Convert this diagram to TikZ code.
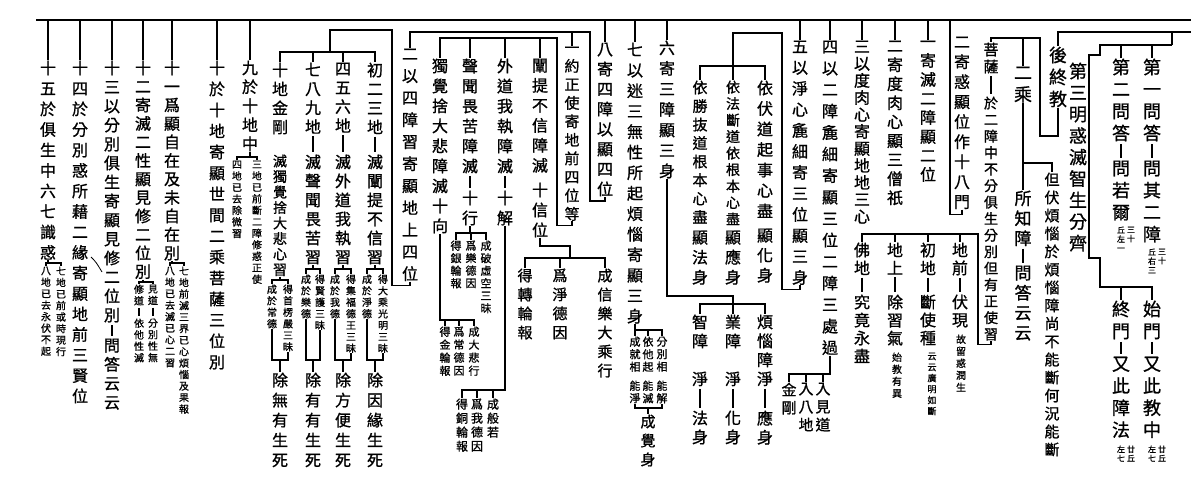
\documentclass[tikz,border=0pt]{standalone}
\usepackage{fontspec}
\setmainfont{Noto Sans CJK TC}[FakeBold=1]
\makeatletter
% one character per line
\def\vt#1{\vt@a#1\vt@end}
\def\vt@a#1{#1\vt@b}
\def\vt@b#1{\ifx\vt@end#1\expandafter\@gobble\else\expandafter\@firstofone\fi{\\#1\vt@b}}
\def\vt@end{VTEND}
\makeatother
\tikzset{
  vcol/.style 2 args={inner sep=0pt, anchor=north, align=center, font=\fontsize{#1}{#2}\selectfont},
}
\begin{document}
\begin{tikzpicture}[x=1pt, y=-1pt, line width=1.3pt]
    \path[use as bounding box, fill=white] (0,0) rectangle (1191,496);

    % top lines
    \coordinate (l1w) at (36,20);
    \coordinate (l1e) at (1191,20);
    \coordinate (lb) at (1191,32);
    \coordinate (lbr) at (1172,32);
    \coordinate (la) at (1172,45);
    \draw[line width=2.2pt] (l1w) -- (l1e);

    % three questions
    \node[vcol={18}{22}] (q1) at (1152,58) {\vt{第一問答}};
    \node[vcol={18}{22}] (q1b) at (1152,160) {\vt{問其二障}};
    \node[vcol={8}{9}] (q1r) at (1162,248) {\vt{三十}};
    \node[vcol={8}{9}] (q1l) at (1152,248) {\vt{丘右三}};
    \node[vcol={18}{22}] (q2) at (1121,58) {\vt{第二問答}};
    \node[vcol={18}{22}] (q2b) at (1121,160) {\vt{問若爾}};
    \node[vcol={8}{9}] (q2r) at (1131,226) {\vt{三十}};
    \node[vcol={8}{9}] (q2l) at (1121,226) {\vt{丘左一}};
    \node[vcol={18}{21.5}] (q3) at (1078,62) {\vt{第三明惑滅智生分齊}};
    \node[vcol={18}{22}] (m1) at (1152,300) {\vt{始門}};
    \node[vcol={18}{22}] (m1b) at (1152,356) {\vt{又此教中}};
    \node[vcol={8}{9}] (m1r) at (1162,445) {\vt{廿丘}};
    \node[vcol={8}{9}] (m1l) at (1152,445) {\vt{左七}};
    \node[vcol={18}{22}] (m2) at (1121,300) {\vt{終門}};
    \node[vcol={18}{22}] (m2b) at (1121,356) {\vt{又此障法}};
    \node[vcol={8}{9}] (m2r) at (1131,445) {\vt{廿丘}};
    \node[vcol={8}{9}] (m2l) at (1121,445) {\vt{左七}};

    % later final teaching
    \node[vcol={18}{22}] (hz) at (1058,46) {\vt{後終教}};
    \node[vcol={18}{22}] (er) at (1023,66) {\vt{二乘}};
    \node[vcol={15}{18}] (fn) at (1052,172) {\vt{但伏煩惱於煩惱障尚不能斷何況能斷}};
    \node[vcol={17}{20}] (sz) at (1023,190) {\vt{所知障}};
    \node[vcol={17}{20}] (szb) at (1023,265) {\vt{問答云云}};
    \node[vcol={15}{17}] (ps) at (991,42) {\vt{菩薩}};
    \node[vcol={14}{16.5}] (psb) at (991,96) {\vt{於二障中不分俱生分別但有正使習}};
    \node[vcol={16}{18}] (d1) at (960,242) {\vt{地前}};
    \node[vcol={16}{18}] (d1b) at (960,294) {\vt{伏現}};
    \node[vcol={10}{12}] (d1n) at (961,334) {\vt{故留惑潤生}};
    \node[vcol={16}{18}] (d2) at (928,242) {\vt{初地}};
    \node[vcol={16}{18}] (d2b) at (928,294) {\vt{斷使種}};
    \node[vcol={9}{11}] (d2n) at (932,352) {\vt{云云廣明如斷}};
    \node[vcol={16}{18}] (d3) at (895,242) {\vt{地上}};
    \node[vcol={16}{18}] (d3b) at (895,294) {\vt{除習氣}};
    \node[vcol={10}{12}] (d3n) at (897,352) {\vt{始教有異}};
    \node[vcol={16}{18}] (d4) at (862,242) {\vt{佛地}};
    \node[vcol={16}{18}] (d4b) at (862,294) {\vt{究竟永盡}};

    % eighteen gates
    \node[vcol={16}{20}] (sb) at (962,36) {\vt{二寄惑顯位作十八門}};
    \node[vcol={16}{19}] (i1) at (928,40) {\vt{一寄滅二障顯二位}};
    \node[vcol={16}{19}] (i2) at (895,40) {\vt{二寄度肉心顯三僧祇}};
    \node[vcol={16}{17}] (i3) at (862,40) {\vt{三以度肉心寄顯地地三心}};
    \node[vcol={16}{21.5}] (i4) at (830,40) {\vt{四以二障麁細寄顯三位二障三處過}};
    \node[vcol={16}{21}] (i5) at (800,40) {\vt{五以淨心麁細寄三位顯三身}};
    \node[vcol={16}{20.5}] (i6) at (667,40) {\vt{六寄三障顯三身}};
    \node[vcol={16}{20.5}] (i7) at (635,42) {\vt{七以迷三無性所起煩惱寄顯三身}};
    \node[vcol={16}{20}] (i8) at (605,42) {\vt{八寄四障以顯四位}};
    \node[vcol={16}{19}] (i9) at (250,60) {\vt{九於十地中}};
    \node[vcol={16}{21}] (i10) at (217,60) {\vt{十於十地寄顯世間二乘菩薩三位別}};
    \node[vcol={16}{18.5}] (i11) at (172,60) {\vt{十一爲顯自在及未自在別}};
    \node[vcol={16}{18.5}] (i12) at (143,60) {\vt{十二寄滅二性顯見修二位別}};
    \node[vcol={16}{19}] (i13) at (112,60) {\vt{十三以分別俱生寄顯見修二位別}};
    \node[vcol={16}{19}] (i13b) at (112,338) {\vt{問答云云}};
    \node[vcol={16}{20.5}] (i14) at (80,60) {\vt{十四於分別惑所藉二緣寄顯地前三賢位}};
    \node[vcol={16}{20.5}] (i15) at (48,60) {\vt{十五於俱生中六七識惑}};

    % under four and five
    \node[vcol={15}{18}] (r1) at (823,382) {\vt{入見道}};
    \node[vcol={15}{18}] (r2) at (806,382) {\vt{入八地}};
    \node[vcol={15}{18}] (r3) at (789,382) {\vt{金剛}};
    \node[vcol={16}{20.5}] (y1) at (765,80) {\vt{依伏道起事心盡}};
    \node[vcol={16}{20}] (y1b) at (765,228) {\vt{顯化身}};
    \node[vcol={14}{16.5}] (y2) at (733,80) {\vt{依法斷道依根本心盡}};
    \node[vcol={16}{20}] (y2b) at (733,230) {\vt{顯應身}};
    \node[vcol={15}{18.5}] (y3) at (700,80) {\vt{依勝抜道根本心盡}};
    \node[vcol={16}{20}] (y3b) at (700,230) {\vt{顯法身}};

    % under six and seven
    \node[vcol={16}{19}] (z1) at (765,314) {\vt{煩惱障淨}};
    \node[vcol={16}{19}] (z1b) at (765,410) {\vt{應身}};
    \node[vcol={16}{19}] (z2) at (733,314) {\vt{業障}};
    \node[vcol={16}{19}] (z2b) at (733,371) {\vt{淨}};
    \node[vcol={16}{19}] (z2c) at (733,410) {\vt{化身}};
    \node[vcol={16}{19}] (z3) at (700,314) {\vt{智障}};
    \node[vcol={16}{19}] (z3b) at (700,371) {\vt{淨}};
    \node[vcol={16}{19}] (z3c) at (700,410) {\vt{法身}};
    \node[vcol={11}{12.5}] (s1) at (662,336) {\vt{分別相}};
    \node[vcol={11}{12.5}] (s1b) at (662,380) {\vt{能解}};
    \node[vcol={11}{12.5}] (s2) at (648,336) {\vt{依他起}};
    \node[vcol={11}{12.5}] (s2b) at (648,380) {\vt{能滅}};
    \node[vcol={11}{12.5}] (s3) at (635,336) {\vt{成就相}};
    \node[vcol={11}{12.5}] (s3b) at (635,380) {\vt{能淨}};
    \node[vcol={15}{19}] (s4) at (648,414) {\vt{成覺身}};

    % under eight
    \node[vcol={15}{18.5}] (j1) at (572,46) {\vt{一約正使寄地前四位等}};
    \node[vcol={16}{22}] (j2) at (410,48) {\vt{二以四障習寄顯地上四位}};
    \node[vcol={16}{20}] (c1) at (540,58) {\vt{闡提不信障滅}};
    \node[vcol={16}{20}] (c1b) at (540,182) {\vt{十信位}};
    \node[vcol={15}{19}] (c1x) at (605,268) {\vt{成信樂大乘行}};
    \node[vcol={15}{19}] (c1y) at (560,268) {\vt{爲淨德因}};
    \node[vcol={15}{19}] (c1z) at (525,268) {\vt{得轉輪報}};
    \node[vcol={16}{20}] (c2) at (505,58) {\vt{外道我執障滅}};
    \node[vcol={16}{20}] (c2b) at (505,190) {\vt{十解}};
    \node[vcol={12}{14}] (c2x) at (493,398) {\vt{成般若}};
    \node[vcol={12}{14}] (c2y) at (477,398) {\vt{爲我德因}};
    \node[vcol={12}{14}] (c2z) at (462,398) {\vt{得銅輪報}};
    \node[vcol={16}{20}] (c3) at (470,58) {\vt{聲聞畏苦障滅}};
    \node[vcol={16}{20}] (c3b) at (470,190) {\vt{十行}};
    \node[vcol={11}{12.5}] (c3x) at (486,240) {\vt{成破虛空三昧}};
    \node[vcol={11}{12.5}] (c3y) at (471,240) {\vt{爲樂德因}};
    \node[vcol={11}{12.5}] (c3z) at (456,240) {\vt{得銀輪報}};
    \node[vcol={16}{20}] (c4) at (440,58) {\vt{獨覺捨大悲障滅十向}};
    \node[vcol={11}{13}] (c4x) at (474,326) {\vt{成大悲行}};
    \node[vcol={11}{13}] (c4y) at (459,326) {\vt{爲常德因}};
    \node[vcol={11}{13}] (c4z) at (445,326) {\vt{得金輪報}};

    % four grounds
    \node[vcol={16}{19}] (g1) at (375,62) {\vt{初二三地}};
    \node[vcol={16}{19}] (g1b) at (375,154) {\vt{滅闡提不信習}};
    \node[vcol={10}{11.5}] (g1x) at (383,274) {\vt{得大乘光明三昧}};
    \node[vcol={10}{11.5}] (g1y) at (367,274) {\vt{成於淨德}};
    \node[vcol={16}{20}] (g1z) at (375,372) {\vt{除因緣生死}};
    \node[vcol={16}{19}] (g2) at (343,62) {\vt{四五六地}};
    \node[vcol={16}{19}] (g2b) at (343,154) {\vt{滅外道我執習}};
    \node[vcol={10}{11.5}] (g2x) at (351,274) {\vt{得集福德王三昧}};
    \node[vcol={10}{11.5}] (g2y) at (335,274) {\vt{成於我德}};
    \node[vcol={16}{20}] (g2z) at (343,372) {\vt{除方便生死}};
    \node[vcol={16}{19}] (g3) at (313,62) {\vt{七八九地}};
    \node[vcol={16}{19}] (g3b) at (313,154) {\vt{滅聲聞畏苦習}};
    \node[vcol={10}{11.5}] (g3x) at (320,274) {\vt{得賢護三昧}};
    \node[vcol={10}{11.5}] (g3y) at (306,274) {\vt{成於樂德}};
    \node[vcol={16}{20}] (g3z) at (313,372) {\vt{除有有生死}};
    \node[vcol={16}{19}] (g4) at (280,62) {\vt{十地金剛}};
    \node[vcol={14}{15.5}] (g4b) at (280,154) {\vt{滅獨覺捨大悲心習}};
    \node[vcol={10}{11.5}] (g4x) at (288,284) {\vt{得首楞嚴三昧}};
    \node[vcol={10}{11.5}] (g4y) at (272,284) {\vt{成於常德}};
    \node[vcol={16}{20}] (g4z) at (280,372) {\vt{除無有生死}};

    % small notes on the left
    \node[vcol={10}{11.5}] (k9a) at (257,160) {\vt{三地已前斷二障修惑正使}};
    \node[vcol={10}{11.5}] (k9b) at (237,160) {\vt{四地已去除微習}};
    \node[vcol={10}{11.5}] (k11a) at (184,266) {\vt{七地前滅三界已心煩惱及果報}};
    \node[vcol={10}{11.5}] (k11b) at (170,266) {\vt{八地已去滅已心二習}};
    \node[vcol={10}{11.5}] (k12a) at (153,284) {\vt{見道}};
    \node[vcol={10}{11.5}] (k12ab) at (153,318) {\vt{分別性無}};
    \node[vcol={10}{11.5}] (k12b) at (139,284) {\vt{修道}};
    \node[vcol={10}{11.5}] (k12bb) at (139,318) {\vt{依他性滅}};
    \node[vcol={10}{11.5}] (k15a) at (61,266) {\vt{七地已前或時現行}};
    \node[vcol={10}{11.5}] (k15b) at (46,266) {\vt{八地已去永伏不起}};

    % ticks from the top line
    \foreach \n in {i1,i2,i3,i4,i5,i6,i7,i8,i9,i10,i11,i12,i13,i14,i15}
      \draw (\n.north) -- (\n.north |- l1w);

    % dashes inside columns
    \foreach \a/\b in {q1/q1b,q2/q2b,m1/m1b,m2/m2b,sz/szb,ps/psb,d1/d1b,d2/d2b,d3/d3b,d4/d4b,
        z1/z1b,z2b/z2c,z3b/z3c,c2/c2b,c3/c3b,g1/g1b,g2/g2b,g3/g3b,k12a/k12ab,k12b/k12bb,i13/i13b}
      \draw[shorten <=2pt, shorten >=2pt] (\a.south) -- (\b.north);

    % right block
    \coordinate (k3a) at (1100,55);
    \coordinate (k3b) at (1089,258);
    \coordinate (k3c) at (1100,287);
    \draw (hz.north) -- (hz.north |- lb) -- (lb);
    \draw (lbr) -- (la);
    \draw (q1.north) -- (q1.north |- la) -- (la);
    \draw (q2.north) -- (q2.north |- la);
    \draw (la) -| (k3a) -| (k3b) -| (k3c) -| (m1.north);
    \draw (m2.north) -- (m2.north |- k3c);
    \coordinate (kh) at (1040,38);
    \draw (hz.south) -- ++(0,28) -| (kh) -| (ps.north);
    \draw (er.north) -- (er.north |- kh);
    \coordinate (ke) at (1023,163);
    \draw (er.south) -- (ke) -| (fn.north);
    \draw (ke) -- (sz.north);
    \coordinate (kp) at (978,234);
    \draw (psb.south) -- ++(0,3) -| (kp) -| (d4.north);
    \foreach \n in {d1,d2,d3} \draw (\n.north) -- (\n.north |- kp);
    \coordinate (ks) at (950,20);
    \draw (sb.south) -- ++(0,5) -| (ks);

    % four, five, six, seven
    \coordinate (k4) at (830,374);
    \draw (i4.south) -- (k4) -| (r3.north);
    \foreach \n in {r1,r2} \draw (\n.north) -- (\n.north |- k4);
    \coordinate (k5a) at (782,33);
    \coordinate (k5b) at (733,66);
    \draw (i5.south) -- ++(0,4) -| (k5a) -| (k5b);
    \draw (y3.north) |- (k5b) -| (y1.north);
    \draw (y2.north) -- (k5b);
    \coordinate (k6a) at (667,296);
    \coordinate (k6b) at (733,304);
    \draw (i6.south) -- (k6a) -| (k6b);
    \draw (z3.north) |- (k6b) -| (z1.north);
    \draw (z2.north) -- (k6b);
    \coordinate (k7) at (635,330);
    \coordinate (k7b) at (648,408);
    \draw (i7.south) -- (s3.north);
    \draw (k7) -| (s1.north);
    \draw (s2.north) -- (s2.north |- k7);
    \draw (s3b.south) |- (k7b) -| (s1b.south);
    \draw (k7b) -- (s4.north);

    % eight
    \coordinate (k8) at (590,32);
    \draw (i8.south) -- ++(0,4) -| (k8) -| (j2.north);
    \draw (j1.north) -- (j1.north |- k8);
    \coordinate (kj) at (557,38);
    \draw (j1.south) -- ++(0,4) -| (kj) -| (c4.north);
    \foreach \n in {c1,c2,c3} \draw (\n.north) -- (\n.north |- kj);
    \coordinate (kc1) at (570,246);
    \coordinate (kc1b) at (570,258);
    \draw (c1b.south) |- (kc1) -- (kc1b);
    \draw (c1z.north) |- (kc1b) -| (c1x.north);
    \draw (c1y.north) -- (c1y.north |- kc1b);
    \coordinate (kc2) at (505,390);
    \draw (c2b.south) -- (kc2) -| (c2z.north);
    \foreach \n in {c2x,c2y} \draw (\n.north) -- (\n.north |- kc2);
    \coordinate (kc3) at (470,233);
    \draw (c3b.south) -- (kc3);
    \draw (c3z.north) |- (kc3) -| (c3x.north);
    \draw (c3y.north) -- (c3y.north |- kc3);
    \coordinate (kc4) at (440,320);
    \draw (c4.south) -- (kc4) -| (c4x.north);
    \foreach \n in {c4y,c4z} \draw (\n.north) -- (\n.north |- kc4);

    % four grounds
    \coordinate (kg) at (392,30);
    \coordinate (kgb) at (330,52);
    \draw (j2.south) -- ++(0,4) -| (kg) -| (kgb);
    \draw (g4.north) |- (kgb) -| (g1.north);
    \foreach \n in {g2,g3} \draw (\n.north) -- (\n.north |- kgb);
    \coordinate (h1) at (375,269); \coordinate (u1) at (375,360);
    \coordinate (h2) at (343,269); \coordinate (u2) at (343,360);
    \coordinate (h3) at (313,269); \coordinate (u3) at (313,360);
    \coordinate (h4) at (280,280); \coordinate (u4) at (280,360);
    \foreach \h/\u/\b/\x/\y/\z in {h1/u1/g1b/g1x/g1y/g1z, h2/u2/g2b/g2x/g2y/g2z,
        h3/u3/g3b/g3x/g3y/g3z, h4/u4/g4b/g4x/g4y/g4z} {
      \draw (\b.south) -- (\h);
      \draw (\y.north) |- (\h) -| (\x.north);
      \draw (\y.south) |- (\u) -| (\x.south);
      \draw (\u) -- (\z.north);
    }

    % notes on the left
    \coordinate (k9) at (250,157);
    \draw (i9.south) -- (k9);
    \draw (k9b.north) |- (k9) -| (k9a.north);
    \coordinate (k11) at (172,263);
    \draw (i11.south) -- (k11) -| (k11a.north);
    \draw (k11b.north) |- (k11);
    \coordinate (k12) at (143,282);
    \draw (i12.south) -- (k12) -| (k12a.north);
    \draw (k12b.north) |- (k12);
    \coordinate (k15) at (48,263);
    \draw (i15.south) -- (k15) -| (k15a.north);
    \draw (k15b.north) |- (k15);

    % stray mark between fourteen and thirteen
    \draw[line width=0.8pt] (91,257) .. controls (96,262) .. (102,272);
\end{tikzpicture}
\end{document}
